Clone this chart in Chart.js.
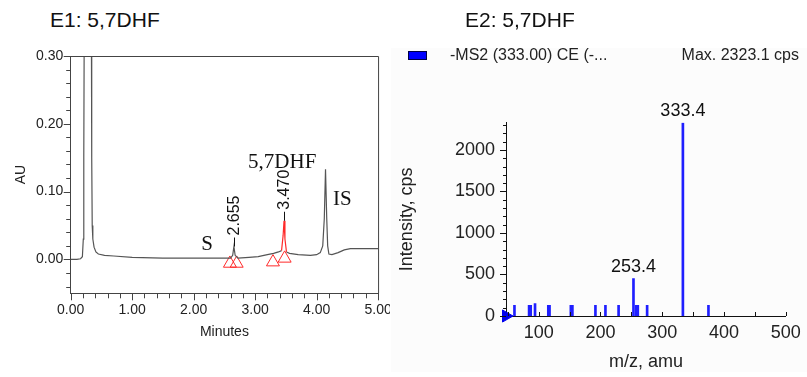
<!DOCTYPE html>
<html>
<head>
<meta charset="utf-8">
<script src="https://cdn.jsdelivr.net/npm/chart.js@4.4.1/dist/chart.umd.min.js"></script>
<style>
  html, body { margin: 0; padding: 0; background: #fff; }
  body { width: 807px; height: 377px; position: relative; overflow: hidden; font-family: "Liberation Sans", Arial, sans-serif; }
  .title { position: absolute; top: 8px; font-size: 21px; line-height: 24px; color: #111; }
  #leftBox { position: absolute; left: 0; top: 0; width: 400px; height: 377px; }
  #rightBox { position: absolute; left: 390px; top: 0; width: 417px; height: 377px; background: #fff; }
  #panel { position: absolute; left: 1px; top: 48px; width: 416px; height: 324px; background: #fcfcfc; }
  #rightBox canvas { position: absolute; left: 0; top: 0; }
  .swatch { position: absolute; left: 18px; top: 51px; width: 17px; height: 7px; background: #0000ff; border: 1px solid #000044; }
  .legend { position: absolute; top: 46px; font-size: 16px; line-height: 18px; color: #222; white-space: nowrap; }
</style>
</head>
<body>
<div class="title" style="left:50px">E1: 5,7DHF</div>
<div id="leftBox"><canvas id="chrom" width="400" height="377"></canvas></div>
<div id="rightBox">
  <div id="panel"></div>
  <canvas id="spec" width="417" height="377"></canvas>
  <div class="swatch"></div>
  <div class="legend" style="left:60px">-MS2 (333.00) CE (-...</div>
  <div class="legend" style="right:8px">Max. 2323.1 cps</div>
</div>
<div class="title" style="left:465px">E2: 5,7DHF</div>

<script>
"use strict";

// E1 chromatogram (minutes, AU)
const chromTime = [0.00, 0.10, 0.16, 0.19, 0.205, 0.213, 0.222, 0.26, 0.30, 0.335, 0.342, 0.35, 0.36, 0.38, 0.41, 0.45, 0.55, 0.70,
  1.00, 1.50, 2.00, 2.40, 2.60, 2.635, 2.655, 2.675, 2.72, 2.90, 3.05, 3.20, 3.30, 3.38, 3.43, 3.455, 3.47, 3.485, 3.51, 3.56,
  3.70, 3.90, 4.00, 4.06, 4.10, 4.125, 4.145, 4.165, 4.18, 4.20, 4.25, 4.35, 4.45, 4.55, 4.75, 5.00];
const chromAU = [0.000, 0.000, 0.001, 0.004, 0.030, 0.150, 0.400, 0.800, 0.800, 0.400, 0.150, 0.050, 0.030, 0.018, 0.011, 0.008, 0.006, 0.005,
  0.003, 0.002, 0.002, 0.002, 0.002, 0.006, 0.019, 0.006, 0.002, 0.003, 0.004, 0.007, 0.009, 0.011, 0.013, 0.035, 0.057, 0.030, 0.011, 0.009,
  0.007, 0.006, 0.007, 0.010, 0.020, 0.060, 0.133, 0.060, 0.020, 0.008, 0.007, 0.010, 0.014, 0.016, 0.016, 0.016];

// integrated peak drawn in red
const redStart = 3.43;
const redEnd = 3.51;

// baseline markers (open red triangles)
const markerTime = [2.59, 2.70, 3.29, 3.48];
const markerAU = [-0.006, -0.006, -0.004, 0.0015];

// retention time labels
const rtLabels = ["2.655", "3.470"];
const rtTime = [2.655, 3.47];
const rtAU = [0.019, 0.057];

// peak names
const peakNames = ["S", "5,7DHF", "IS"];
const peakNameTime = [2.22, 3.44, 4.42];
const peakNameAU = [0.022, 0.143, 0.088];

// E2 MS2 spectrum (m/z, cps)
const specMz = [60.7, 84.4, 87.0, 94.0, 115.5, 117.5, 152.0, 154.5, 191.8, 208.0, 229.3, 253.4, 257.8, 260.4, 275.5, 333.4, 374.8];
const specInt = [130, 130, 130, 150, 130, 130, 130, 130, 128, 128, 128, 451, 130, 130, 128, 2323.1, 130];
const specLabelMz = [253.4, 333.4];
const specLabelInt = [451, 2323.1];

const sansFont = "'Liberation Sans', Arial, sans-serif";
const serifFont = "'Liberation Serif', 'Times New Roman', serif";

function isMultiple(v, step) {
  const r = v / step;
  return Math.abs(r - Math.round(r)) < 1e-6;
}

// draws tick marks of both axes, long on labelled ticks and short on the others
function tickMarks(id, opt) {
  return {
    id: id,
    afterDraw(chart) {
      const ctx = chart.ctx;
      const a = chart.chartArea;
      const xs = chart.scales.x;
      const ys = chart.scales.y;
      ctx.save();
      ctx.strokeStyle = opt.color;
      ctx.lineWidth = 1;
      ctx.beginPath();
      xs.ticks.forEach(function(t) {
        const px = Math.round(xs.getPixelForValue(t.value)) + 0.5;
        const len = isMultiple(t.value, opt.xMajor) ? opt.xLen[0] : opt.xLen[1];
        ctx.moveTo(px, a.bottom);
        ctx.lineTo(px, a.bottom + opt.xDir * len);
      });
      ys.ticks.forEach(function(t) {
        const py = Math.round(ys.getPixelForValue(t.value)) + 0.5;
        const len = isMultiple(t.value, opt.yMajor) ? opt.yLen[0] : opt.yLen[1];
        ctx.moveTo(a.left, py);
        ctx.lineTo(a.left - len, py);
      });
      ctx.stroke();
      if (opt.frame) {
        ctx.beginPath();
        ctx.moveTo(a.left, a.top + 0.5);
        ctx.lineTo(a.right + 0.5, a.top + 0.5);
        ctx.lineTo(a.right + 0.5, a.bottom);
        ctx.stroke();
      }
      ctx.restore();
    }
  };
}

const chromLabels = {
  id: "chromLabels",
  afterDraw(chart) {
    const ctx = chart.ctx;
    const xs = chart.scales.x;
    const ys = chart.scales.y;
    ctx.save();
    // retention times, rotated, with a short leader
    ctx.font = "16px " + sansFont;
    ctx.fillStyle = "#111";
    ctx.strokeStyle = "#111";
    ctx.lineWidth = 1;
    rtLabels.forEach(function(txt, i) {
      const px = Math.round(xs.getPixelForValue(rtTime[i])) + 0.5;
      const py = ys.getPixelForValue(rtAU[i]);
      ctx.beginPath();
      ctx.moveTo(px, py);
      ctx.lineTo(px, py - 9);
      ctx.stroke();
      ctx.save();
      ctx.translate(px, py - 11);
      ctx.rotate(-Math.PI / 2);
      ctx.textAlign = "left";
      ctx.textBaseline = "middle";
      ctx.fillText(txt, 0, 0);
      ctx.restore();
    });
    // peak names
    ctx.font = "21px " + serifFont;
    ctx.textAlign = "center";
    ctx.textBaseline = "middle";
    peakNames.forEach(function(txt, i) {
      ctx.fillText(txt, xs.getPixelForValue(peakNameTime[i]), ys.getPixelForValue(peakNameAU[i]));
    });
    ctx.restore();
  }
};

const specLabels = {
  id: "specLabels",
  afterDraw(chart) {
    const ctx = chart.ctx;
    const xs = chart.scales.x;
    const ys = chart.scales.y;
    ctx.save();
    ctx.font = "18px " + sansFont;
    ctx.fillStyle = "#111";
    ctx.textAlign = "center";
    ctx.textBaseline = "bottom";
    specLabelMz.forEach(function(mz, i) {
      ctx.fillText(mz.toFixed(1), xs.getPixelForValue(mz), ys.getPixelForValue(specLabelInt[i]) - 3);
    });
    ctx.restore();
  }
};

Chart.defaults.font.family = sansFont;
Chart.defaults.color = "#222";
Chart.defaults.animation = false;

const lineGray = "#555";
const peakRed = "#ff2a2a";

new Chart(document.getElementById("chrom").getContext("2d"), {
  type: "line",
  data: {
    datasets: [{
      data: chromTime.map(function(t, i) { return { x: t, y: chromAU[i] }; }),
      borderColor: lineGray,
      borderWidth: 1.2,
      pointRadius: 0,
      tension: 0,
      segment: {
        borderColor: function(ctx) {
          return (ctx.p0.parsed.x >= redStart && ctx.p1.parsed.x <= redEnd) ? peakRed : lineGray;
        }
      }
    }, {
      type: "scatter",
      data: markerTime.map(function(t, i) { return { x: t, y: markerAU[i] }; }),
      pointStyle: "triangle",
      pointRadius: 7.5,
      pointBorderWidth: 1,
      pointBorderColor: peakRed,
      pointBackgroundColor: "rgba(0,0,0,0)",
      clip: false
    }]
  },
  options: {
    responsive: false,
    devicePixelRatio: 1,
    layout: { padding: { top: 56, right: 21.3, left: 0, bottom: 0 } },
    plugins: { legend: { display: false }, tooltip: { enabled: false } },
    scales: {
      x: {
        type: "linear",
        min: 0,
        max: 5,
        grid: { display: false, drawTicks: false },
        border: { display: true, color: "#444", width: 1 },
        ticks: {
          stepSize: 0.2,
          autoSkip: false,
          maxRotation: 0,
          includeBounds: false,
          padding: 8.3,
          color: "#222",
          font: { size: 14 },
          callback: function(v) { return isMultiple(v, 1) ? v.toFixed(2) : ""; }
        },
        title: { display: true, text: "Minutes", color: "#222", font: { size: 14 }, padding: { top: 0, bottom: 36 } },
        afterFit: function(scale) { scale.height = 83.7; }
      },
      y: {
        type: "linear",
        min: -0.05,
        max: 0.30,
        grid: { display: false, drawTicks: false },
        border: { display: true, color: "#444", width: 1 },
        ticks: {
          stepSize: 0.02,
          autoSkip: false,
          includeBounds: false,
          padding: 7.4,
          color: "#222",
          font: { size: 14 },
          callback: function(v) { return isMultiple(v, 0.1) ? v.toFixed(2) : ""; }
        },
        title: { display: true, text: "AU", color: "#222", font: { size: 14 }, padding: { top: 12.6, bottom: 0 } },
        afterFit: function(scale) { scale.width = 70.7; }
      }
    }
  },
  plugins: [tickMarks("chromTicks", { color: "#444", xMajor: 1, xLen: [7, 5], xDir: 1, yMajor: 0.1, yLen: [7, 4.5], frame: true }), chromLabels]
});

const specBlue = "#1f1fff";

new Chart(document.getElementById("spec").getContext("2d"), {
  type: "bar",
  data: {
    datasets: [{
      data: specMz.map(function(m, i) { return { x: m, y: specInt[i] }; }),
      backgroundColor: specBlue,
      borderWidth: 0,
      barThickness: 2
    }, {
      type: "scatter",
      data: [{ x: 47, y: 0 }],
      pointStyle: "triangle",
      rotation: 90,
      pointRadius: 7,
      pointBackgroundColor: "#0000ee",
      pointBorderColor: "#0000ee",
      clip: false
    }]
  },
  options: {
    responsive: false,
    devicePixelRatio: 1,
    layout: { padding: { top: 122.6, right: 20, left: 0, bottom: 0 } },
    plugins: { legend: { display: false }, tooltip: { enabled: false } },
    scales: {
      x: {
        type: "linear",
        min: 47,
        max: 500,
        offset: false,
        grid: { display: false, drawTicks: false },
        border: { display: true, color: "#111", width: 1 },
        ticks: {
          stepSize: 50,
          autoSkip: false,
          maxRotation: 0,
          includeBounds: false,
          padding: 6.2,
          color: "#222",
          font: { size: 18 },
          callback: function(v) { return isMultiple(v, 100) ? String(v) : ""; }
        },
        title: { display: true, text: "m/z, amu", color: "#222", font: { size: 18 }, padding: { top: 0, bottom: 4.2 } },
        afterFit: function(scale) { scale.height = 61; }
      },
      y: {
        type: "linear",
        min: 0,
        max: 2330,
        grid: { display: false, drawTicks: false },
        border: { display: true, color: "#111", width: 1 },
        ticks: {
          stepSize: 100,
          autoSkip: false,
          includeBounds: false,
          padding: 11,
          color: "#222",
          font: { size: 18 },
          callback: function(v) { return isMultiple(v, 500) ? String(v) : ""; }
        },
        title: { display: true, text: "Intensity, cps", color: "#222", font: { size: 18 }, padding: { top: 6.2, bottom: 0 } },
        afterFit: function(scale) { scale.width = 116; }
      }
    }
  },
  plugins: [tickMarks("specTicks", { color: "#111", xMajor: 100, xLen: [-4, -4], xDir: 1, yMajor: 500, yLen: [6, 3], frame: false }), specLabels]
});
</script>
</body>
</html>
